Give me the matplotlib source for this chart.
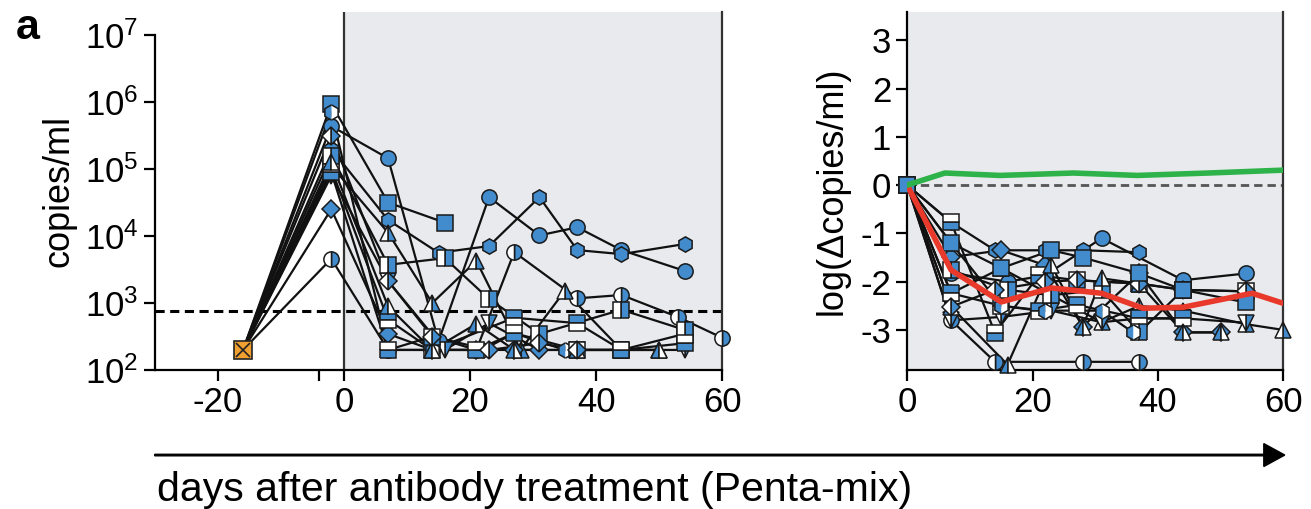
import numpy as np
import matplotlib
matplotlib.use('Agg')
import matplotlib.pyplot as plt

plt.rcParams['font.family'] = ['Liberation Sans', 'DejaVu Sans']
plt.rcParams['mathtext.fontset'] = 'custom'
plt.rcParams['mathtext.rm'] = 'Liberation Sans'
plt.rcParams['mathtext.default'] = 'regular'
plt.rcParams['axes.unicode_minus'] = False

blue = '#428bcc'
grey_bg = '#e9eaed'

# marker style per animal: (marker, fillstyle)
styles = [('o', 'full'), ('h', 'full'), ('s', 'full'), ('o', 'right'),
          ('^', 'right'), ('v', 'right'), ('D', 'full'), ('s', 'top'),
          ('s', 'right'), ('h', 'left'), ('s', 'bottom'), ('^', 'left'),
          ('D', 'right')]

# left panel: days and log10(copies/ml)
left_days = [
    [-16, -2, 7, 15, 23, 31, 37, 44, 54],
    [-16, -2, 7, 15, 23, 31, 37, 44, 54],
    [-16, -2, 7, 16],
    [-16, -2, 7, 14, 21, 27, 37, 44, 53, 60],
    [-16, -2, 7, 14, 21, 28, 35, 44, 50],
    [-16, -2, 7, 16, 23, 31, 37, 44, 54],
    [-16, -2, 7, 14, 21, 27, 31],
    [-16, -2, 7, 14, 27, 37, 44, 54],
    [-16, -2, 7, 16, 23, 31, 44, 54],
    [-16, -2, 7, 14, 22, 27, 35, 44],
    [-16, -2, 7, 14, 21, 27, 37, 44, 54],
    [-16, -2, 7, 14, 21, 27, 37, 50],
    [-16, -2, 7, 14, 23, 31, 37],
]
left_logv = [
    [2.3, 5.64, 5.16, 2.43, 4.58, 4.01, 4.13, 3.79, 3.48],
    [2.3, 5.30, 4.24, 3.75, 3.85, 4.58, 3.79, 3.73, 3.88],
    [2.3, 5.97, 4.50, 4.20],
    [2.3, 3.66, 2.3, 2.3, 2.3, 3.76, 3.07, 3.12, 2.79, 2.48],
    [2.3, 5.05, 4.05, 3.0, 3.63, 2.3, 3.18, 2.3, 2.3],
    [2.3, 4.90, 3.33, 2.3, 2.7, 2.3, 2.3, 2.3, 2.3],
    [2.3, 4.40, 2.54, 2.3, 2.3, 2.3, 2.3],
    [2.3, 5.00, 2.75, 2.3, 2.78, 2.70, 2.3, 2.54],
    [2.3, 5.20, 3.57, 3.67, 3.06, 2.54, 2.9, 2.6],
    [2.3, 5.85, 2.3, 2.3, 2.3, 2.55, 2.3, 2.3],
    [2.3, 4.95, 2.3, 2.5, 2.3, 2.55, 2.3, 2.3, 2.4],
    [2.3, 5.10, 2.95, 2.3, 2.69, 2.3, 2.3, 2.3],
    [2.3, 5.50, 3.33, 2.5, 2.3, 2.4, 2.3],
]
detect_limit = 10 ** 2.88

# right panel: days and log(delta copies/ml)
right_days = [
    [0, 7, 16, 22, 31, 44, 54],
    [0, 7, 14, 22, 28, 37],
    [0, 7, 15, 23, 28, 37, 44, 54],
    [0, 7, 14, 28, 37],
    [0, 7, 15, 23, 31, 37, 44, 54, 60],
    [0, 7, 15, 23, 31, 37, 44, 54],
    [0, 7, 15, 22, 28, 37, 44, 50],
    [0, 7, 15, 21, 27, 37, 44],
    [0, 7, 16, 23, 31, 37, 44],
    [0, 7, 15, 22, 31, 36],
    [0, 7, 14, 21, 27, 37, 44, 54],
    [0, 7, 16, 23, 28, 31, 37, 44, 50],
    [0, 7, 14, 22, 27, 37, 44, 54],
]
right_delta = [
    [0, -1.82, -2.0, -1.87, -1.1, -1.97, -1.83],
    [0, -0.77, -1.35, -1.35, -1.35, -1.39],
    [0, -1.2, -1.72, -1.35, -1.5, -1.83, -2.17, -2.43],
    [0, -2.8, -3.66, -3.66, -3.66],
    [0, -2.24, -1.72, -2.28, -2.84, -2.5, -2.6, -2.88, -3.0],
    [0, -2.8, -2.73, -2.6, -2.84, -2.76, -2.76, -2.85],
    [0, -1.49, -1.35, -1.66, -2.93, -1.83, -3.05, -3.05],
    [0, -2.24, -2.5, -2.6, -2.48, -2.76, -2.76],
    [0, -1.76, -2.17, -2.28, -2.17, -3.05, -2.17],
    [0, -1.2, -2.5, -2.6, -2.6, -3.05],
    [0, -0.77, -3.06, -1.87, -1.97, -2.04, -2.17, -2.2],
    [0, -2.52, -3.72, -1.66, -2.93, -1.93, -2.04, -3.05, -3.05],
    [0, -2.52, -2.17, -2.0, -1.97, -2.04, -2.17, -2.2],
]
median_days = [0, 7, 15, 23, 31, 37.6, 44, 55, 60]
median_delta = [0, -1.76, -2.42, -2.13, -2.24, -2.55, -2.53, -2.24, -2.45]
control_days = [0, 6, 14.8, 26.5, 36.7, 48, 60]
control_delta = [0, 0.25, 0.2, 0.25, 0.2, 0.25, 0.31]

fig = plt.figure(figsize=(13.11, 5.09), dpi=100)
ax1 = fig.add_axes([0.118, 0.273, 0.433, 0.703])
ax2 = fig.add_axes([0.692, 0.273, 0.287, 0.703])

ms = 11
def draw_marks(ax, x, y, st, z=4):
    ax.plot(x, y, ls='none', marker=st[0], fillstyle=st[1], markersize=ms if st[0] != 'D' else ms * 0.85,
            markerfacecolor=blue, markerfacecoloralt='white', markeredgecolor='#1a1a1a',
            markeredgewidth=1.1, zorder=z, clip_on=False)

# ---- left panel
ax1.set_yscale('log')
ax1.axvspan(0, 60, color=grey_bg, zorder=0, lw=0)
ax1.axvline(0, color='#333333', lw=1.6, zorder=1)
ax1.axhline(detect_limit, color='k', lw=2.2, ls=(0, (3, 1.8)), zorder=2)
for d, v in zip(left_days, left_logv):
    ax1.plot(d, 10 ** np.array(v), '-', color='#111111', lw=1.6, zorder=2)
for d, v, st in zip(left_days, left_logv, styles):
    draw_marks(ax1, d[1:], 10 ** np.array(v[1:]), st)
ax1.plot(-16, 10 ** 2.3, 's', ms=13, mfc='#f0a030', mec='#222222', mew=1.2, zorder=5)
ax1.plot(-16, 10 ** 2.3, 'x', ms=10, mec='#222222', mew=1.2, zorder=6)

ax1.set_xlim(-30, 60)
ax1.set_ylim(1e2, 10 ** 7.34)
ax1.set_xticks([-20, 0, 20, 40, 60])
ax1.set_xticks([-4], minor=True)
ax1.set_yticks([10 ** k for k in range(2, 8)])
ax1.set_yticklabels(['$10^{%d}$' % k for k in range(2, 8)])
ax1.yaxis.set_minor_locator(matplotlib.ticker.NullLocator())
ax1.spines['top'].set_visible(False)
ax1.spines['left'].set_bounds(1e2, 1e7)
for s in ['left', 'bottom', 'right']:
    ax1.spines[s].set_linewidth(1.6)
ax1.spines['right'].set_color('#333333')
ax1.tick_params(axis='both', which='both', length=8, width=1.6, labelsize=25)
ax1.set_ylabel('copies/ml', fontsize=26, labelpad=6)

# ---- right panel
ax2.set_facecolor(grey_bg)
ax2.axhline(0, color='#555555', lw=2, ls=(0, (3, 1.8)), zorder=1)
for d, v in zip(right_days, right_delta):
    ax2.plot(d, v, '-', color='#111111', lw=1.6, zorder=2)
order = [i for i in range(len(styles)) if i != 2] + [2]
for i in order:
    draw_marks(ax2, right_days[i], right_delta[i], styles[i])
ax2.plot(median_days, median_delta, '-', color='#e8392b', lw=4, zorder=6)
ax2.plot(control_days, control_delta, '-', color='#2db34a', lw=4, zorder=6)
ax2.set_xlim(0, 60)
ax2.set_ylim(-3.83, 3.58)
ax2.set_xticks([0, 20, 40, 60])
ax2.set_yticks([-3, -2, -1, 0, 1, 2, 3])
ax2.spines['top'].set_visible(False)
for s in ['left', 'bottom', 'right']:
    ax2.spines[s].set_linewidth(1.6)
ax2.spines['right'].set_color('#333333')
ax2.tick_params(axis='both', length=8, width=1.6, labelsize=25)
ax2.set_ylabel('log(\u0394copies/ml)', fontsize=26, labelpad=8)

# ---- arrow and caption
fig.patches.append(matplotlib.patches.FancyArrow(
    0.118, 0.106, 0.862, 0, width=0.003, head_width=0.045, head_length=0.016,
    length_includes_head=True, color='black', transform=fig.transFigure))
fig.text(0.12, 0.037, 'days after antibody treatment (Penta-mix)', fontsize=29.5,
         ha='left', va='center')
fig.text(0.012, 0.945, 'a', fontsize=31, fontweight='bold', ha='left', va='center')

fig.savefig('out.png', dpi=100)
